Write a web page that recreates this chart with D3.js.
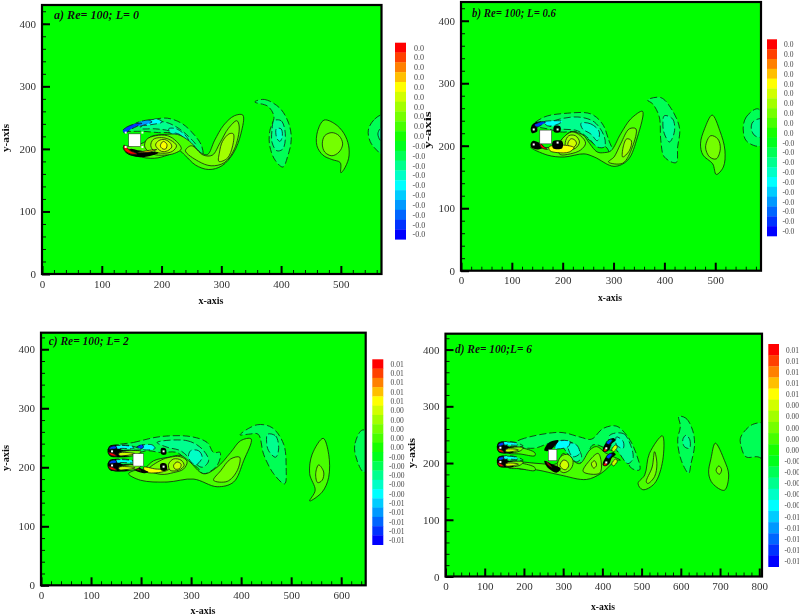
<!DOCTYPE html>
<html lang="en">
<head>
<meta charset="utf-8">
<title>Vorticity contours Re=100</title>
<script src="https://d3js.org/d3.v7.min.js"></script>
<style>
  body { margin: 0; background: #fff; }
  text { font-family: "Liberation Serif", serif; }
</style>
</head>
<body>
<script>
// Titles and axis ranges of the four panels
const titles = ["a) Re= 100; L= 0", "b) Re= 100; L= 0.6", "c) Re= 100; L= 2", "d) Re= 100;L= 6"];
const xMax = [568, 590, 649, 807];
const yMax = [430, 430, 428, 428];
const xMajor = [[0,100,200,300,400,500], [0,100,200,300,400,500], [0,100,200,300,400,500,600], [0,100,200,300,400,500,600,700,800]];
const yMajor = [0, 100, 200, 300, 400];
const minorStep = 20;

// Colour bar tick labels, top to bottom
const barLabelsSmall = ["0.0","0.0","0.0","0.0","0.0","0.0","0.0","0.0","0.0","0.0","-0.0","-0.0","-0.0","-0.0","-0.0","-0.0","-0.0","-0.0","-0.0","-0.0"];
const barLabelsLarge = ["0.01","0.01","0.01","0.01","0.01","0.00","0.00","0.00","0.00","0.00","-0.00","-0.00","-0.00","-0.00","-0.00","-0.01","-0.01","-0.01","-0.01","-0.01"];

// Main square body [x0, x1, y0, y1] and the small control bodies
const squares = [[145,165,204,224], [155,178,203,225], [184,205,202,223], [262,284,204,224]];
const smallBodies = [
  [[140,226],[168,226],[140,203],[168,203]],
  [[143,226],[190,226],[143,202],[190,205]],
  [[142,227],[142,203],[245,227],[245,201]],
  [[140,227],[140,202],[410,226],[410,201]]
];

// Contours: [band level 0-19 (-1 = dense black lines), outline in x,y axis units]
const contoursA = [
  [8, [[137,228],[155,240],[180,246],[210,249],[235,240],[255,222],[267,205],[269,188],[255,200],[235,215],[220,225],[195,226],[170,228],[150,228]]],
  [7, [[165,233],[175,242],[205,243],[225,235],[245,220],[258,205],[250,205],[235,215],[215,228],[190,232]]],
  [6, [[212,232],[225,232],[243,218],[248,205],[235,208],[222,218]]],
  [5, [[222,225],[232,222],[238,213],[230,214]]],
  [5, [[173,244],[195,247],[201,243],[184,239],[170,238]]],
  [3, [[156,240],[178,246],[184,243],[173,239],[162,236]]],
  [1, [[135,229],[142,235],[156,240],[167,241],[159,236],[148,231],[139,225]]],
  [11, [[136,203],[140,195],[160,188],[188,185],[210,190],[228,198],[240,189],[257,174],[279,167],[301,173],[320,193],[333,225],[336,254],[322,253],[304,238],[289,214],[277,191],[267,193],[247,212],[227,223],[205,223],[183,220],[170,210],[150,205]]],
  [12, [[240,197],[262,180],[283,173],[305,178],[322,200],[330,235],[326,245],[312,233],[298,210],[285,190],[270,190],[250,205]]],
  [13, [[296,180],[310,185],[319,205],[320,224],[313,224],[302,212],[297,195]]],
  [12, [[172,203],[175,215],[190,221],[210,221],[225,212],[233,200],[222,193],[205,190],[185,192]]],
  [13, [[182,205],[186,215],[200,218],[215,214],[225,205],[218,196],[202,193],[188,196]]],
  [14, [[190,206],[195,213],[205,215],[215,209],[217,203],[210,197],[200,196]]],
  [15, [[198,205],[203,212],[209,207],[207,200],[202,200]]],
  [-1, [[139,196],[150,189],[167,187],[185,190],[195,194],[178,196],[160,198],[148,200]]],
  [16, [[160,194],[175,197],[192,199],[180,195],[165,194]]],
  [19, [[137,206],[138,198],[148,192],[159,192],[148,197],[142,202]]],
  [8, [[356,275],[372,279],[398,265],[413,240],[417,215],[411,188],[403,171],[390,182],[381,205],[381,228],[388,252],[378,268]]],
  [7, [[388,245],[400,245],[407,225],[403,200],[393,197],[385,210],[385,232]]],
  [6, [[392,232],[400,232],[402,220],[398,212],[393,217]]],
  [11, [[472,246],[490,240],[505,225],[513,205],[513,185],[505,167],[500,162],[499,178],[485,183],[470,190],[460,205],[461,228]]],
  [12, [[485,226],[497,221],[503,208],[497,195],[485,189],[473,195],[469,208],[473,221]]],
  [8, [[570,254],[555,246],[546,230],[549,212],[560,198],[572,190],[585,220]]],
  [7, [[568,234],[562,224],[568,212],[578,222]]]
];

const contoursB = [
  [8, [[140,232],[164,246],[209,252],[255,251],[278,235],[291,208],[300,187],[295,186],[285,198],[268,200],[249,211],[229,222],[196,222],[170,227],[150,230]]],
  [7, [[170,234],[183,240],[229,246],[262,238],[282,214],[282,198],[268,198],[252,211],[229,224],[196,227]]],
  [6, [[236,236],[255,235],[272,222],[268,208],[255,219],[239,227]]],
  [5, [[163,238],[183,240],[199,239],[186,233],[170,232]]],
  [11, [[137,198],[170,185],[203,182],[242,187],[262,182],[301,167],[328,177],[347,214],[357,255],[334,243],[314,219],[295,192],[282,189],[268,190],[249,208],[242,216],[216,222],[196,208],[180,198]]],
  [12, [[290,174],[318,172],[337,198],[344,227],[331,227],[314,203],[301,182]]],
  [13, [[318,182],[331,192],[335,208],[326,211],[319,198]]],
  [12, [[190,195],[200,212],[218,222],[235,216],[245,204],[235,193],[215,187],[195,186]]],
  [13, [[205,205],[212,216],[225,216],[233,206],[225,196],[208,194]]],
  [14, [[210,202],[216,211],[224,209],[227,203],[220,197]]],
  [15, [[173,198],[199,201],[222,197],[213,190],[189,189],[175,192]]],
  [-1, [[137,227],[143,236],[158,239],[150,231],[150,223],[140,220]]],
  [-1, [[137,203],[142,208],[153,205],[163,198],[150,194],[138,198]]],
  [-1, [[183,231],[195,231],[195,222],[183,222]]],
  [-1, [[181,207],[199,207],[199,196],[181,196]]],
  [1, [[145,233],[156,238],[166,238],[156,232],[149,230]]],
  [19, [[155,205],[162,199],[170,194],[158,197]]],
  [8, [[367,273],[393,277],[416,256],[430,227],[426,198],[423,173],[400,182],[393,208],[390,246],[377,267]]],
  [7, [[400,248],[416,243],[420,224],[410,206],[400,219],[397,235]]],
  [11, [[494,249],[509,224],[519,193],[516,166],[502,154],[495,171],[476,185],[471,203],[479,227]]],
  [12, [[491,216],[505,211],[510,195],[502,179],[489,182],[481,198]]],
  [8, [[584,259],[561,246],[555,227],[561,208],[584,199],[594,203],[600,230]]],
  [7, [[591,243],[574,238],[571,227],[578,216],[591,214],[598,230]]]
];

const contoursC = [
  [8, [[149,236],[185,242],[239,252],[299,252],[332,242],[345,225],[358,225],[352,203],[325,189],[312,200],[292,211],[272,225],[239,225],[212,228],[185,222],[160,224]]],
  [7, [[232,242],[292,245],[322,231],[335,211],[322,200],[299,214],[279,228],[252,234]]],
  [6, [[299,228],[315,228],[322,217],[309,204],[295,216]]],
  [11, [[175,189],[199,178],[252,175],[305,180],[352,167],[385,175],[405,211],[420,248],[399,245],[379,225],[352,200],[325,189],[295,211],[279,220],[255,217],[225,211],[205,197],[185,194]]],
  [12, [[345,178],[372,176],[392,194],[397,217],[379,214],[359,194]]],
  [12, [[215,196],[240,212],[258,217],[278,218],[292,210],[285,197],[265,191],[240,188]]],
  [13, [[255,205],[265,214],[280,212],[286,203],[275,195],[258,195]]],
  [14, [[265,203],[272,209],[280,205],[277,198],[268,197]]],
  [15, [[205,200],[230,197],[255,196],[235,191],[210,192]]],
  [5, [[198,236],[222,238],[228,232],[205,230]]],
  [-1, [[180,222],[186,232],[205,238],[195,229],[188,224]]],
  [1, [[190,233],[202,238],[205,234],[195,230]]],
  [-1, [[180,205],[188,195],[207,190],[215,192],[200,198],[190,204]]],
  [19, [[183,205],[190,197],[200,194],[190,200]]],
  [-1, [[240,232],[249,232],[250,222],[241,222]]],
  [-1, [[239,206],[250,206],[251,195],[240,195]]],
  [8, [[398,255],[432,272],[462,267],[485,239],[490,200],[487,172],[465,189],[445,222],[434,256],[415,256]]],
  [7, [[453,256],[469,253],[475,231],[469,217],[455,228],[451,242]]],
  [11, [[564,249],[575,222],[575,183],[562,158],[537,143],[548,161],[537,189],[542,222]]],
  [12, [[555,204],[565,192],[562,178],[553,174],[549,189]]],
  [8, [[642,263],[627,237],[632,211],[645,192],[660,200],[660,255]]]
];

const contoursD = [
  [8, [[170,232],[190,241],[292,254],[342,246],[372,242],[402,261],[436,265],[465,246],[486,217],[495,188],[474,191],[453,217],[419,223],[376,232],[351,199],[317,217],[275,235],[224,226]]],
  [7, [[292,239],[325,235],[347,211],[334,202],[308,220]]],
  [6, [[313,235],[334,232],[342,217],[325,211],[314,223]]],
  [7, [[419,249],[453,252],[470,235],[478,208],[465,199],[440,220],[419,235]]],
  [6, [[436,246],[453,238],[453,226],[436,232]]],
  [11, [[160,201],[181,191],[232,188],[292,179],[359,171],[397,182],[436,205],[446,205],[410,217],[385,229],[368,223],[342,199],[313,211],[300,217],[283,199],[241,199],[190,202]]],
  [12, [[351,185],[393,182],[397,202],[389,217],[368,205]]],
  [13, [[372,199],[380,204],[385,196],[378,191]]],
  [11, [[160,225],[190,227],[228,218],[228,213],[190,216],[160,218]]],
  [11, [[160,199],[190,200],[228,192],[228,187],[190,190],[160,192]]],
  [12, [[285,195],[295,212],[312,215],[325,205],[320,190],[300,183]]],
  [14, [[292,195],[300,205],[310,203],[314,195],[305,188]]],
  [5, [[288,238],[317,238],[313,229],[279,226]]],
  [-1, [[252,222],[264,236],[288,240],[277,229],[266,222]]],
  [-1, [[252,204],[260,192],[283,183],[294,190],[272,198]]],
  [19, [[256,203],[263,196],[272,192],[264,199]]],
  [11, [[553,248],[554,205],[533,164],[503,153],[491,164],[508,179],[520,217]]],
  [12, [[533,220],[539,199],[533,176],[516,164],[512,167],[527,193]]],
  [8, [[595,282],[613,279],[630,258],[635,232],[626,199],[620,182],[601,205],[592,241],[599,265]]],
  [7, [[613,249],[623,241],[622,226],[609,229],[605,241]]],
  [11, [[688,235],[711,205],[722,179],[711,152],[681,164],[671,182],[677,208]]],
  [12, [[697,195],[704,188],[698,180],[690,187]]],
  [8, [[783,268],[753,246],[753,232],[766,211],[796,211],[820,205],[820,268]]]
];

// Wake of an upstream small body, relative to that body (panels c, d)
const longWake = [
  [8, [[-8,2],[0,9],[15,11],[40,9],[58,3],[30,2],[10,1]]],
  [12, [[-6,0],[10,-1],[30,1],[58,0],[52,-5],[30,-9],[10,-9],[-2,-6]]],
  [-1, [[-9,2],[-5,9],[5,11],[14,9],[18,3],[34,1],[18,-1],[34,-8],[12,-10],[-2,-9],[-8,-4]]],
  [5, [[8,9],[20,10],[40,8],[44,5],[20,5],[10,5]]],
  [14, [[14,-3],[30,-2],[46,-4],[28,-7],[14,-7]]],
  [1, [[-6,4],[-2,8],[6,9],[9,6],[2,4]]],
  [19, [[-7,-2],[-2,-7],[9,-8],[3,-4]]]
];
const longWakeOrigins = [[], [], [[142,227],[142,203]], [[140,227],[140,202]]];

// Shorter, tilted wake of the downstream bodies in panel d
const shortWake = [
  [14, [[14,-2],[24,6],[28,2],[18,-6]]],
  [-1, [[-9,-5],[-6,4],[5,14],[18,18],[24,14],[14,8],[8,-2],[0,-6]]],
  [1, [[0,10],[10,16],[15,14],[6,7]]],
  [19, [[-7,-4],[-4,-6],[2,-4],[-3,0]]]
];
const shortWakeOrigins = [[], [], [], [[410,226],[410,201]]];

const contours = [contoursA, contoursB, contoursC, contoursD];

// Pixel layout
const width = 799, height = 615;
const frames = [
  {l:42, t:5, r:381.5, b:274},
  {l:461, t:2, r:761, b:270.7},
  {l:41, t:332.7, r:365.7, b:585.3},
  {l:445.5, t:333.7, r:762, b:576.5}
];
const bars = [
  {l:395, r:406, t:42.7, b:239.3, tx:414, fs:8, labels:barLabelsSmall},
  {l:767, r:777, t:39.3, b:236, tx:784, fs:7.5, labels:barLabelsSmall},
  {l:372.3, r:383.3, t:359.3, b:544.7, tx:390.5, fs:7.5, labels:barLabelsLarge},
  {l:768.3, r:779, t:344, b:566.7, tx:786, fs:7.4, labels:barLabelsLarge}
];
const titlePos = [{x:54, y:19, w:85}, {x:472, y:17, w:84}, {x:48.7, y:345, w:80}, {x:455, y:353, w:77}];
const xLabelPos = [{x:211, y:304, w:25}, {x:610, y:300.5, w:24}, {x:203, y:614, w:25}, {x:603, y:610, w:24}];
const yLabelPos = [{x:9, y:138, w:28}, {x:431, y:130, w:37}, {x:9, y:458, w:26}, {x:415, y:453, w:30}];

const color = d3.scaleLinear()
  .domain([0, 5, 9.5, 15, 19])
  .range(["#0000ff", "#00ffff", "#00ff00", "#ffff00", "#ff0000"]);

const svg = d3.select("body").append("svg")
  .attr("width", width).attr("height", height);

const defs = svg.append("defs");
defs.append("filter").attr("id", "soft").append("feGaussianBlur").attr("stdDeviation", 0.45);

const root = svg.append("g").attr("filter", "url(#soft)");

frames.forEach((f, i) => {
  const x = d3.scaleLinear().domain([0, xMax[i]]).range([f.l, f.r]);
  const y = d3.scaleLinear().domain([0, yMax[i]]).range([f.b, f.t]);
  const g = root.append("g");

  defs.append("clipPath").attr("id", "clip" + i).append("rect")
    .attr("x", f.l).attr("y", f.t).attr("width", f.r - f.l).attr("height", f.b - f.t);

  g.append("rect")
    .attr("x", f.l).attr("y", f.t).attr("width", f.r - f.l).attr("height", f.b - f.t)
    .attr("fill", "#00ff00");

  const plot = g.append("g").attr("clip-path", "url(#clip" + i + ")");
  const outline = d3.line().x(d => x(d[0])).y(d => y(d[1])).curve(d3.curveCatmullRomClosed.alpha(0.5));

  // outer contours first, then the near wake motifs on top
  let shapes = contours[i].map(c => ({level: c[0], pts: c[1]}));
  const place = (motif, origins) => origins.forEach(o => motif.forEach(c => {
    shapes.push({level: c[0], pts: c[1].map(p => [o[0] + p[0], o[1] + p[1]])});
  }));
  place(longWake, longWakeOrigins[i]);
  place(shortWake, shortWakeOrigins[i]);

  plot.selectAll("path.contour").data(shapes).enter().append("path")
    .attr("class", "contour")
    .attr("d", d => outline(d.pts))
    .attr("fill", d => d.level < 0 ? "#050505" : color(d.level))
    .attr("stroke", d => d.level < 0 ? "none" : "#111")
    .attr("stroke-width", 0.75)
    .attr("stroke-dasharray", d => d.level >= 0 && d.level < 10 ? "7,3" : null);

  // bodies
  const s = squares[i];
  plot.append("rect")
    .attr("x", x(s[0])).attr("y", y(s[3]))
    .attr("width", x(s[1]) - x(s[0])).attr("height", y(s[2]) - y(s[3]))
    .attr("fill", "#fff").attr("stroke", "#222").attr("stroke-width", 0.5);
  plot.selectAll("rect.body").data(smallBodies[i]).enter().append("rect")
    .attr("class", "body")
    .attr("x", d => x(d[0]) - 1).attr("y", d => y(d[1]) - 1)
    .attr("width", 2).attr("height", 2).attr("fill", "#fff");

  // axes: inward ticks, labels on a separate zero-length axis
  const xMinor = d3.range(0, xMax[i], minorStep);
  const yMinor = d3.range(0, yMax[i], minorStep);
  const fmt = d3.format("d");

  const tickAxis = (axis, vals, size, w) => sel => {
    sel.call(axis.tickValues(vals).tickSize(size).tickFormat(""));
    sel.select(".domain").remove();
    sel.selectAll("line").attr("stroke", "#000").attr("stroke-width", w);
  };
  g.append("g").attr("transform", "translate(0," + f.b + ")").call(tickAxis(d3.axisBottom(x), xMinor, -4, 0.9));
  g.append("g").attr("transform", "translate(0," + f.b + ")").call(tickAxis(d3.axisBottom(x), xMajor[i], -8, 2));
  g.append("g").attr("transform", "translate(" + f.l + ",0)").call(tickAxis(d3.axisLeft(y), yMinor, -4, 0.9));
  g.append("g").attr("transform", "translate(" + f.l + ",0)").call(tickAxis(d3.axisLeft(y), yMajor, -8, 2));

  const xl = g.append("g").attr("transform", "translate(0," + f.b + ")")
    .call(d3.axisBottom(x).tickValues(xMajor[i]).tickSize(0).tickPadding(6).tickFormat(fmt));
  const yl = g.append("g").attr("transform", "translate(" + f.l + ",0)")
    .call(d3.axisLeft(y).tickValues(yMajor).tickSize(0).tickPadding(6).tickFormat(fmt));
  [xl, yl].forEach(a => {
    a.select(".domain").remove();
    a.selectAll("text").attr("font-family", "Liberation Serif").attr("font-size", 11).attr("fill", "#333");
  });

  g.append("rect")
    .attr("x", f.l).attr("y", f.t).attr("width", f.r - f.l).attr("height", f.b - f.t)
    .attr("fill", "none").attr("stroke", "#000").attr("stroke-width", 2.2);

  // title and axis names
  const tp = titlePos[i];
  g.append("text").attr("x", tp.x).attr("y", tp.y).text(titles[i])
    .attr("font-size", 13).attr("font-weight", "bold").attr("font-style", "italic")
    .attr("fill", "#111").attr("textLength", tp.w).attr("lengthAdjust", "spacingAndGlyphs");

  const xp = xLabelPos[i];
  g.append("text").attr("x", xp.x).attr("y", xp.y).text("x-axis")
    .attr("text-anchor", "middle").attr("font-size", 9.5).attr("font-weight", "bold")
    .attr("fill", "#111").attr("textLength", xp.w).attr("lengthAdjust", "spacingAndGlyphs");

  const yp = yLabelPos[i];
  g.append("text").attr("transform", "translate(" + yp.x + "," + yp.y + ") rotate(-90)").text("y-axis")
    .attr("text-anchor", "middle").attr("font-size", 9.5).attr("font-weight", "bold")
    .attr("fill", "#111").attr("textLength", yp.w).attr("lengthAdjust", "spacingAndGlyphs");

  // colour bar
  const b = bars[i];
  const band = d3.scaleBand().domain(d3.range(19, -1, -1)).range([b.t, b.b]);
  g.selectAll("rect.band").data(band.domain()).enter().append("rect")
    .attr("class", "band")
    .attr("x", b.l).attr("y", d => band(d))
    .attr("width", b.r - b.l).attr("height", band.bandwidth() + 0.3)
    .attr("fill", d => color(d));
  g.selectAll("text.band").data(band.domain()).enter().append("text")
    .attr("class", "band")
    .attr("x", d => b.tx - (b.labels[19 - d][0] === "-" ? 1.5 : 0))
    .attr("y", d => band(d) + band.bandwidth() / 2 + 3)
    .attr("font-size", b.fs).attr("fill", "#444")
    .text(d => b.labels[19 - d]);
});
</script>
</body>
</html>
